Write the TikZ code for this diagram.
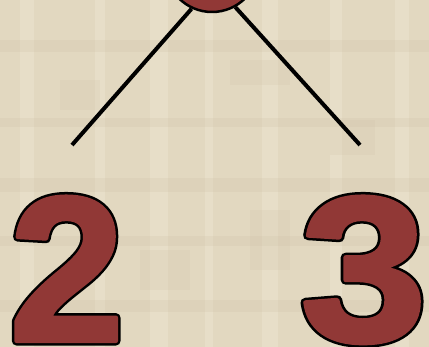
\documentclass[tikz,border=0pt]{standalone}
\usepackage{fontspec}
\usepackage{graphicx}
\setmainfont{Liberation Sans}
\definecolor{bgbeige}{RGB}{226,216,192}
\definecolor{bglight}{RGB}{240,233,214}
\definecolor{bgdark}{RGB}{205,193,166}
\definecolor{digitred}{RGB}{145,56,54}
\tikzset{
  bignum/.style={anchor=base west, inner sep=0pt, font=\fontsize{207}{207}\selectfont\bfseries},
  branch/.style={draw=black, line width=4pt},
  topcircle/.style={circle, fill=digitred, draw=black, line width=2.5pt, minimum size=94pt, inner sep=0pt}
}
\newcommand\outlinelayer[1]{{\color{black}\special{pdf:code 2 Tr 9 w 1 j 0 0 0 RG}#1\special{pdf:code 0 Tr}}}
\newcommand\filllayer[1]{{\color{digitred}\special{pdf:code 2 Tr 4 w 1 j 0.569 0.22 0.212 RG}#1\special{pdf:code 0 Tr}}}
\begin{document}
\begin{tikzpicture}[x=1pt,y=-1pt]
\useasboundingbox (0,0) rectangle (429,347);
\clip (0,0) rectangle (429,347);
% background with soft texture
\fill[bgbeige] (0,0) rectangle (429,347);
\foreach \x/\w in {20/14, 95/10, 150/18, 205/8, 262/16, 330/12, 395/14}
  \fill[bglight, opacity=0.4] (\x,0) rectangle ++(\w,347);
\foreach \y/\h in {40/12, 118/9, 178/14, 236/10, 300/12}
  \fill[bgdark, opacity=0.22] (0,\y) rectangle ++(429,\h);
\foreach \x/\y/\w/\h in {60/80/40/30, 230/60/60/25, 140/250/50/40, 330/120/45/35, 250/210/40/60}
  \fill[bgdark, opacity=0.18] (\x,\y) rectangle ++(\w,\h);
% top circle
\node[topcircle] (top) at (212,-35) {};
\coordinate (leftend) at (72,145);
\coordinate (rightend) at (360,145);
\draw[branch] (top.245) -- (leftend);
\draw[branch] (top.299) -- (rightend);
% digits: black outline layer then red layer
\node[bignum] (twoout) at (9,341) {\outlinelayer{2}};
\node[bignum] (two) at (9,341) {\filllayer{2}};
\node[bignum] (threeout) at (300,341) {\scalebox{1.1}[1]{\outlinelayer{3}}};
\node[bignum] (three) at (300,341) {\scalebox{1.1}[1]{\filllayer{3}}};
\end{tikzpicture}
\end{document}
